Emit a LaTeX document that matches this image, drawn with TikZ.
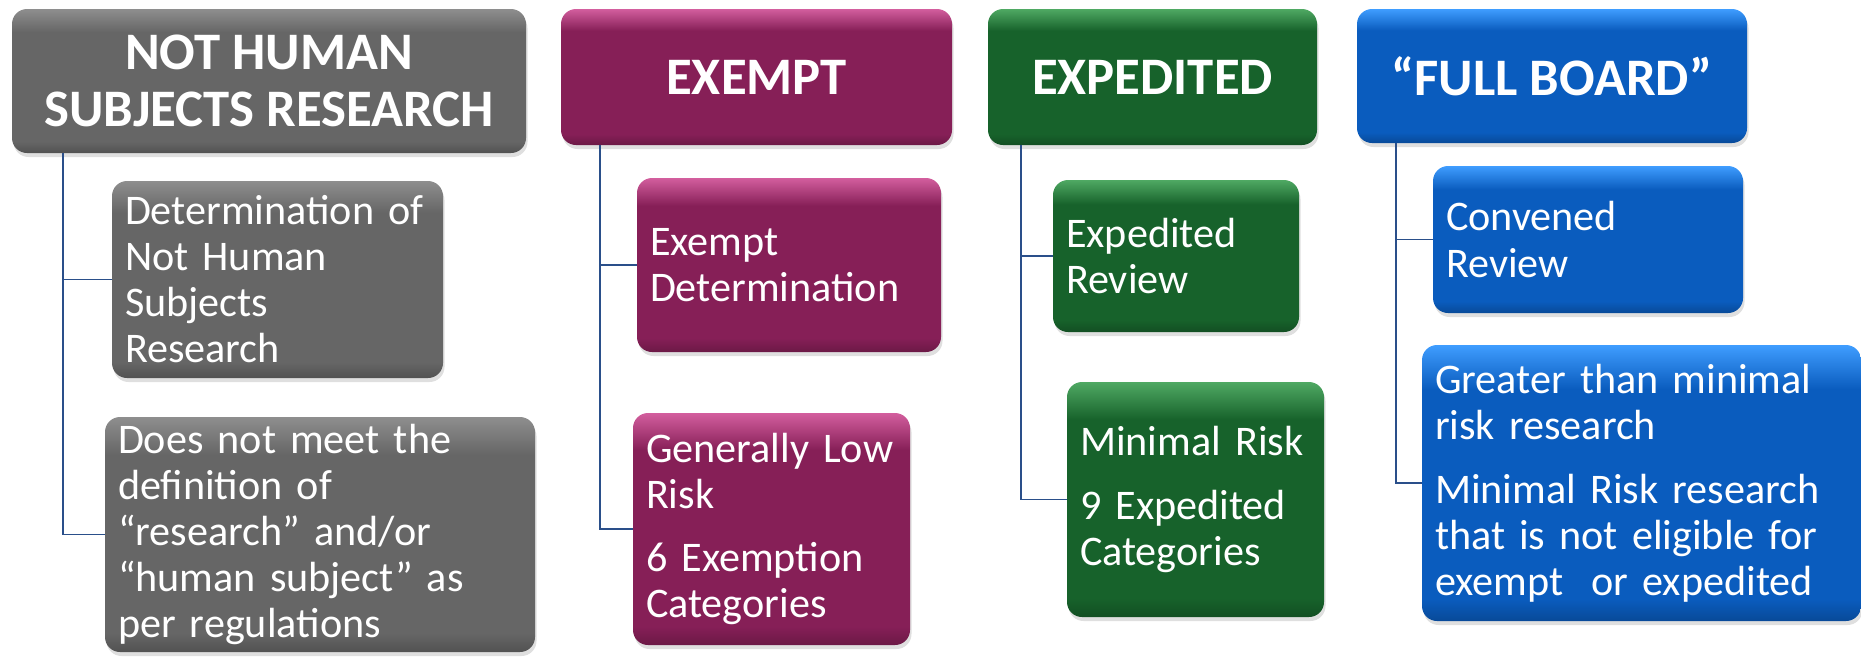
\documentclass[tikz,border=0pt]{standalone}
\usepackage{fontspec}
\setmainfont{Carlito}
\usetikzlibrary{calc,shadows}

\definecolor{nhsgray}{HTML}{666666}
\definecolor{nhsgraytop}{HTML}{8E8E8E}
\definecolor{exmpurple}{HTML}{861F57}
\definecolor{exmpurpletop}{HTML}{D35E9E}
\definecolor{expgreen}{HTML}{17622B}
\definecolor{expgreentop}{HTML}{4FA963}
\definecolor{fbblue}{HTML}{0A5CBE}
\definecolor{fbbluetop}{HTML}{3F9DFF}
\definecolor{linkblue}{HTML}{2A4F8A}

\colorlet{bevbase}{nhsgray}
\colorlet{bevtop}{nhsgraytop}
\colorlet{bevdark}{nhsgray!80!black}
\pgfdeclareverticalshading[bevdark,bevbase,bevtop]{bevel}{100bp}{color(0bp)=(bevdark); color(25bp)=(bevdark); color(29bp)=(bevbase); color(67bp)=(bevbase); color(75bp)=(bevtop); color(100bp)=(bevtop)}

\tikzset{boxcol/.code 2 args={\colorlet{bevbase}{#1}\colorlet{bevtop}{#2}\colorlet{bevdark}{#1!80!black}}}

\begin{document}
\begin{tikzpicture}[
  hdr/.style={shade, shading=bevel, rounded corners=0.3cm, inner sep=0pt, text=white,
              font=\fontsize{30}{32}\selectfont\bfseries, align=center,
              drop shadow={opacity=0.25, shadow xshift=0.03cm, shadow yshift=-0.08cm}},
  sub/.style={shade, shading=bevel, rounded corners=0.3cm, inner xsep=0.26cm, inner ysep=0pt, text=white,
              font=\fontsize{24}{26.2}\selectfont, align=left,
              drop shadow={opacity=0.25, shadow xshift=0.03cm, shadow yshift=-0.08cm}},
  link/.style={draw=linkblue, line width=1.1pt}]
\useasboundingbox (0,0) rectangle (37.22,-13.12);

% not human subjects research
\node[hdr, boxcol={nhsgray}{nhsgraytop}, minimum width=10.28cm, minimum height=2.88cm] (nhs) at (5.38,-1.62) {NOT HUMAN\\SUBJECTS RESEARCH};
\node[sub, boxcol={nhsgray}{nhsgraytop}, text width=6.10cm, minimum height=3.94cm] (nhs1) at (5.55,-5.59) {Determination of\\Not Human\\Subjects\\Research};
\node[sub, boxcol={nhsgray}{nhsgraytop}, text width=8.08cm, minimum height=4.70cm] (nhs2) at (6.40,-10.69) {Does not meet the\\definition of\\“research” and/or\\“human subject” as\\per regulations};

% exempt
\node[hdr, boxcol={exmpurple}{exmpurpletop}, minimum width=7.82cm, minimum height=2.72cm] (exm) at (15.13,-1.54) {EXEMPT};
\node[sub, boxcol={exmpurple}{exmpurpletop}, text width=5.56cm, minimum height=3.48cm] (exm1) at (15.78,-5.30) {Exempt\\Determination};
\node[sub, boxcol={exmpurple}{exmpurpletop}, text width=5.02cm, minimum height=4.64cm] (exm2) at (15.43,-10.58) {Generally Low\\Risk\\[10pt]6 Exemption\\Categories};

% expedited
\node[hdr, boxcol={expgreen}{expgreentop}, minimum width=6.58cm, minimum height=2.72cm] (exp) at (23.05,-1.54) {EXPEDITED};
\node[sub, boxcol={expgreen}{expgreentop}, text width=4.40cm, minimum height=3.04cm] (exp1) at (23.52,-5.12) {Expedited\\Review};
\node[sub, boxcol={expgreen}{expgreentop}, text width=4.62cm, minimum height=4.70cm] (exp2) at (23.91,-9.99) {Minimal Risk\\[10pt]9 Expedited\\Categories};

% full board
\node[hdr, boxcol={fbblue}{fbbluetop}, minimum width=7.80cm, minimum height=2.68cm] (fb) at (31.04,-1.52) {“FULL BOARD”};
\node[sub, boxcol={fbblue}{fbbluetop}, text width=5.68cm, minimum height=2.94cm] (fb1) at (31.76,-4.79) {Convened\\Review};
\node[sub, boxcol={fbblue}{fbbluetop}, text width=8.26cm, minimum height=5.52cm] (fb2) at (32.83,-9.66) {Greater than minimal\\risk research\\[10pt]Minimal Risk research\\that is not eligible for\\exempt\ \ or expedited};

% connectors
\foreach \h/\a/\b in {nhs/nhs1/nhs2, exm/exm1/exm2, exp/exp1/exp2, fb/fb1/fb2} {
  \draw[link] ($(\h.south west)!0.1!(\h.south east)$) |- (\a.west);
  \draw[link] ($(\h.south west)!0.1!(\h.south east)$) |- (\b.west);
}
\end{tikzpicture}
\end{document}
